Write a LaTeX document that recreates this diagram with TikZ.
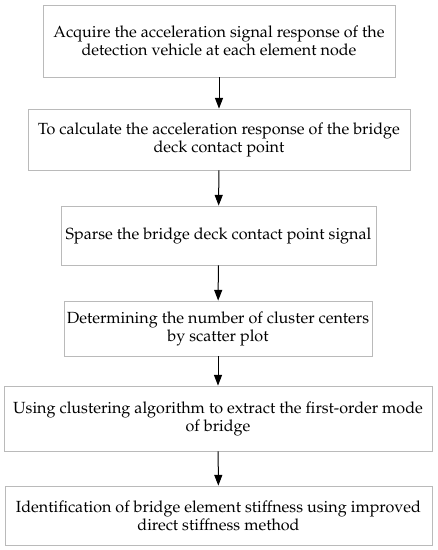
\documentclass[tikz,border=0pt]{standalone}
\usepackage[T1]{fontenc}
\usepackage{mathpazo}
\usetikzlibrary{arrows.meta}

\begin{document}
\begin{tikzpicture}[x=0.75pt,y=-0.75pt,->,>={Triangle[length=8pt,width=6pt]},
  step box/.style={draw=black!27,line width=0.6pt,align=center,inner sep=0pt,font=\fontsize{12.1}{13.5}\selectfont}]

  \useasboundingbox (0,0) rectangle (437,550);

  \node[step box,minimum width=264pt,minimum height=54pt] (s1) at (219,41)
    {Acquire the acceleration signal response of the\\detection vehicle at each element node};
  \node[step box,minimum width=286.5pt,minimum height=45.75pt] (s2) at (219,139.5)
    {To calculate the acceleration response of the bridge\\deck contact point};
  \node[step box,minimum width=236.25pt,minimum height=44.25pt] (s3) at (218.5,235.5)
    {Sparse the bridge deck contact point signal};
  \node[step box,minimum width=231pt,minimum height=41.25pt] (s4) at (218,328.5)
    {Determining the number of cluster centers\\by scatter plot};
  \node[step box,minimum width=321pt,minimum height=48.75pt] (s5) at (218,418.5)
    {Using clustering algorithm to extract the first-order mode\\of bridge};
  \node[step box,minimum width=320.25pt,minimum height=44.25pt] (s6) at (218.5,515.5)
    {Identification of bridge element stiffness using improved\\direct stiffness method};

  \path[line width=0.75pt]
    (s1) edge (s2)
    (s2) edge (s3)
    (s3) edge (s4)
    (s4) edge (s5)
    (s5) edge (s6)
    ;
\end{tikzpicture}
\end{document}
